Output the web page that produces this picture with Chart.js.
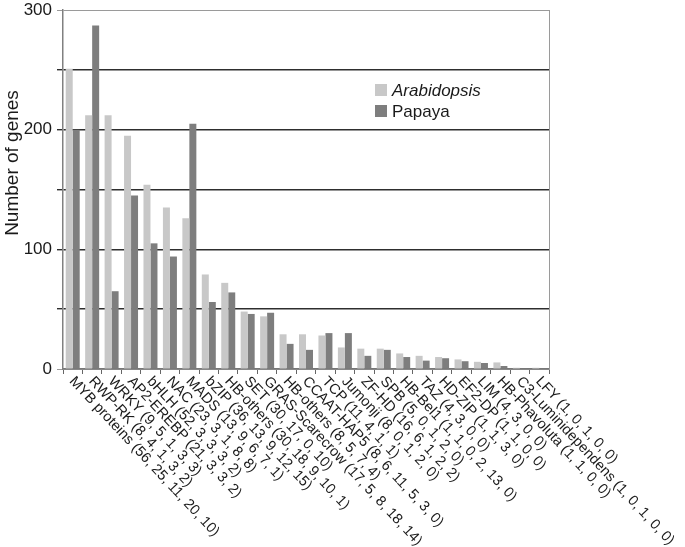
<!DOCTYPE html>
<html>
<head>
<meta charset="utf-8">
<script src="https://cdn.jsdelivr.net/npm/chart.js@4.4.1/dist/chart.umd.min.js"></script>
<style>
  html, body { margin: 0; padding: 0; background: #fff; }
  #wrap { width: 685px; height: 547px; position: relative; }
</style>
</head>
<body>
<div id="wrap"><canvas id="c" width="685" height="547"></canvas></div>
<script>
const categories = [
  "MYB proteins (56, 25, 11, 20, 10)",
  "RWP-RK (8, 4, 1, 3, 2)",
  "WRKY (9, 5, 1, 3, 3)",
  "AP2-EREBP (21, 3, 3, 2)",
  "bHLH (52, 3, 3, 3, 2)",
  "NAC (23, 3, 1, 8, 8)",
  "MADS (13, 9, 6, 7, 1)",
  "bZIP (36, 13, 9, 12, 15)",
  "HB-others (30, 18, 9, 10, 1)",
  "SET (30, 17, 0, 10)",
  "GRAS-Scarecrow (17, 5, 8, 18, 14)",
  "HB-others (8, 5, 7, 4)",
  "CCAAT-HAP5 (8, 6, 11, 5, 3, 0)",
  "TCP (11, 4, 1, 1)",
  "Jumonji (8, 0, 1, 2, 0)",
  "ZF-HD (16, 6, 1, 2, 2)",
  "SPB (5, 0, 1, 2, 0)",
  "HB-Bel1 (1, 1, 0, 2, 13, 0)",
  "TAZ (4, 3, 0, 0)",
  "HD-ZIP (1, 1, 3, 0)",
  "EF2-DP (1, 1, 0, 0)",
  "LIM (4, 3, 0, 0)",
  "HB-Phavoluta (1, 1, 0, 0)",
  "C3-Luminidependens (1, 0, 1, 0, 0)",
  "LFY (1, 0, 1, 0, 0)"
];
const arabidopsis = [251, 212, 212, 195, 154, 135, 126, 79, 72, 48, 44, 29, 29, 28, 18, 17, 17, 13, 11, 10, 8, 6, 5.5, 1, 1];
const papaya      = [200, 287, 65, 145, 105, 94, 205, 56, 64, 46, 47, 21, 16, 30, 30, 11, 16, 10, 7, 9, 6.5, 5, 2.5, 0.6, 0.6];
const yTickLabels = { 0: "0", 100: "100", 200: "200", 300: "300" };
const seriesNames = ["Arabidopsis", "Papaya"];
const yTitle = "Number of genes";

const LIGHT = "#c8c8c8";
const DARK = "#7e7e7e";
const FONT = "'Liberation Sans', Arial, sans-serif";

const xLabelPlugin = {
  id: "xLabels",
  afterDraw(chart) {
    const xs = chart.scales.x;
    const ctx = chart.ctx;
    const bottom = chart.chartArea.bottom;
    ctx.save();
    ctx.font = "14.5px " + FONT;
    ctx.fillStyle = "#1a1a1a";
    ctx.textAlign = "left";
    ctx.textBaseline = "middle";
    const ang = 47 * Math.PI / 180;
    categories.forEach((lab, i) => {
      const x = xs.getPixelForValue(i);
      ctx.save();
      ctx.translate(x - 1, bottom + 10);
      ctx.rotate(ang);
      ctx.fillText(lab, 0, 0);
      ctx.restore();
    });
    // y axis title
    ctx.save();
    ctx.translate(13, 163);
    ctx.rotate(-Math.PI / 2);
    ctx.font = "19px " + FONT;
    ctx.textAlign = "center";
    ctx.textBaseline = "middle";
    ctx.fillText(yTitle, 0, 0);
    ctx.restore();
    ctx.restore();
  }
};

const legendPlugin = {
  id: "innerLegend",
  afterDraw(chart) {
    const ctx = chart.ctx;
    ctx.save();
    const items = [
      { name: seriesNames[0], color: LIGHT, italic: true, y: 90 },
      { name: seriesNames[1], color: DARK, italic: false, y: 111 }
    ];
    items.forEach(it => {
      ctx.fillStyle = it.color;
      ctx.fillRect(375, it.y - 6, 12, 12);
      ctx.fillStyle = "#1a1a1a";
      ctx.font = (it.italic ? "italic " : "") + "17px " + FONT;
      ctx.textAlign = "left";
      ctx.textBaseline = "middle";
      ctx.fillText(it.name, 392, it.y + 1);
    });
    ctx.restore();
  }
};

new Chart(document.getElementById("c"), {
  type: "bar",
  data: {
    labels: categories,
    datasets: [
      { label: seriesNames[0], data: arabidopsis, backgroundColor: LIGHT, categoryPercentage: 0.72, barPercentage: 1.0, yAxisID: "y" },
      { label: seriesNames[1], data: papaya, backgroundColor: DARK, categoryPercentage: 0.72, barPercentage: 1.0, yAxisID: "y" }
    ]
  },
  options: {
    responsive: false,
    animation: false,
    devicePixelRatio: 1,
    layout: { padding: { top: 10, left: 0, right: 0, bottom: 0 } },
    plugins: { legend: { display: false }, tooltip: { enabled: false } },
    scales: {
      x: {
        type: "category",
        offset: true,
        grid: { display: true, drawOnChartArea: false, drawTicks: true, tickLength: 5, offset: true, color: "#666", lineWidth: 1 },
        border: { display: true, color: "#777", width: 1.5 },
        ticks: { display: false },
        afterFit(scale) { scale.height = 178; scale.paddingLeft = 0; scale.paddingRight = 0; }
      },
      y: {
        position: "left",
        min: 0, max: 300,
        ticks: {
          stepSize: 50,
          autoSkip: false,
          padding: 5,
          color: "#1a1a1a",
          font: { family: FONT, size: 17 },
          callback: (v) => (yTickLabels[v] !== undefined ? yTickLabels[v] : "")
        },
        grid: {
          drawTicks: true,
          tickLength: 6,
          color: (c) => (c.tick && (c.tick.value === 300 || c.tick.value === 0) ? "#9a9a9a" : "#2e2e2e"),
          lineWidth: (c) => (c.tick && (c.tick.value === 300 || c.tick.value === 0) ? 1 : 1.4)
        },
        border: { display: true, color: "#808080", width: 1.5 },
        title: { display: false },
        afterFit(scale) { scale.width = 63; scale.paddingTop = 0; scale.paddingBottom = 0; }
      },
      y2: {
        position: "right",
        min: 0, max: 300,
        ticks: { display: false },
        grid: { display: false, drawTicks: false },
        border: { display: true, color: "#9a9a9a", width: 1 },
        afterFit(scale) { scale.width = 136; scale.paddingTop = 0; scale.paddingBottom = 0; }
      }
    }
  },
  plugins: [xLabelPlugin, legendPlugin]
});
</script>
</body>
</html>
